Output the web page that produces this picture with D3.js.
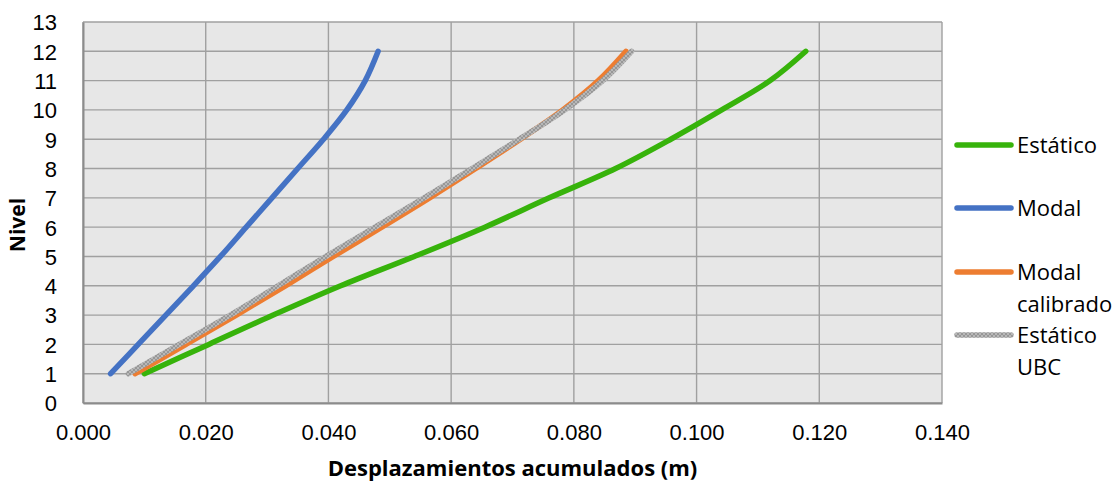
<!DOCTYPE html>
<html>
<head>
<meta charset="utf-8">
<script src="https://cdn.jsdelivr.net/npm/d3@7"></script>
<style>
  html, body { margin: 0; padding: 0; background: #ffffff; }
  svg { display: block; }
</style>
</head>
<body>
<svg id="chart" width="1119" height="483"></svg>
<script>
// Storey levels and accumulated displacements (m) per analysis
const levels = [1, 2, 3, 4, 5, 6, 7, 8, 9, 10, 11, 12];
const estatico      = [0.0100, 0.0205, 0.0310, 0.0420, 0.0540, 0.0655, 0.0760, 0.0868, 0.0958, 0.1041, 0.1120, 0.1178];
const modal         = [0.0045, 0.0090, 0.0135, 0.0180, 0.0224, 0.0266, 0.0308, 0.0350, 0.0392, 0.0430, 0.0460, 0.0481];
const modalCalib    = [0.0085, 0.0168, 0.0250, 0.0330, 0.0408, 0.0487, 0.0565, 0.0640, 0.0713, 0.0782, 0.0840, 0.0885];
const estaticoUBC   = [0.0074, 0.0157, 0.0240, 0.0318, 0.0396, 0.0476, 0.0556, 0.0634, 0.0711, 0.0785, 0.0847, 0.0894];

const seriesNames = ["Estático", "Modal", "Modal\ncalibrado", "Estático\nUBC"];
const xTicks = [0, 0.02, 0.04, 0.06, 0.08, 0.10, 0.12, 0.14];
const yTicks = [0, 1, 2, 3, 4, 5, 6, 7, 8, 9, 10, 11, 12, 13];

const series = [
  { name: seriesNames[0], values: estatico,    color: "#37b30b" },
  { name: seriesNames[1], values: modal,       color: "#4472c4" },
  { name: seriesNames[2], values: modalCalib,  color: "#ed7d31" },
  { name: seriesNames[3], values: estaticoUBC, color: "url(#ubcTexture)" }
];

const svg = d3.select("#chart");
const plot = { left: 83, right: 942, top: 22, bottom: 403 };

const x = d3.scaleLinear().domain([0, 0.14]).range([plot.left, plot.right]);
const y = d3.scaleLinear().domain([0, 13]).range([plot.bottom, plot.top]);

// Textured stroke for the UBC series
const defs = svg.append("defs");
const pat = defs.append("pattern")
  .attr("id", "ubcTexture")
  .attr("patternUnits", "userSpaceOnUse")
  .attr("width", 4).attr("height", 4);
pat.append("rect").attr("width", 4).attr("height", 4).attr("fill", "#b8b8b8");
pat.append("path").attr("d", "M0,0 L4,4 M4,0 L0,4").attr("stroke", "#8e8e8e").attr("stroke-width", 0.8);

// Plot background
svg.append("rect")
  .attr("x", plot.left).attr("y", plot.top)
  .attr("width", plot.right - plot.left).attr("height", plot.bottom - plot.top)
  .attr("fill", "#e7e7e7");

// Gridlines
const grid = svg.append("g");
grid.selectAll("line.h").data(yTicks).join("line")
  .attr("x1", plot.left).attr("x2", plot.right)
  .attr("y1", d => y(d)).attr("y2", d => y(d))
  .attr("stroke", "#a0a0a0").attr("stroke-width", 1.4);
grid.selectAll("line.v").data(xTicks).join("line")
  .attr("y1", plot.top).attr("y2", plot.bottom)
  .attr("x1", d => x(d)).attr("x2", d => x(d))
  .attr("stroke", "#a0a0a0").attr("stroke-width", 1.4);

// Axes
const xAxis = d3.axisBottom(x).tickValues(xTicks).tickFormat(d3.format(".3f")).tickSize(0).tickPadding(0);
const yAxis = d3.axisLeft(y).tickValues(yTicks).tickFormat(d3.format("d")).tickSize(0).tickPadding(0);

const gx = svg.append("g").attr("transform", `translate(0,${plot.bottom})`).call(xAxis);
gx.select(".domain").attr("stroke", "#8c8c8c").attr("stroke-width", 2);
gx.selectAll("text")
  .attr("font-family", "'Liberation Sans', Arial, sans-serif")
  .attr("font-size", 22).attr("fill", "#000")
  .attr("dy", 0).attr("y", 37);

const gy = svg.append("g").attr("transform", `translate(${plot.left},0)`).call(yAxis);
gy.select(".domain").attr("stroke", "#8c8c8c").attr("stroke-width", 2);
gy.selectAll("text")
  .attr("font-family", "'Liberation Sans', Arial, sans-serif")
  .attr("font-size", 22).attr("fill", "#000")
  .attr("x", 57 - plot.left).attr("dy", "0.36em");

// Axis titles
svg.append("text")
  .attr("x", (plot.left + plot.right) / 2).attr("y", 476)
  .attr("text-anchor", "middle")
  .attr("font-family", "'Open Sans', sans-serif").attr("font-weight", "bold").attr("font-size", 22)
  .text("Desplazamientos acumulados (m)");

svg.append("text")
  .attr("transform", "translate(25,225) rotate(-90)")
  .attr("text-anchor", "middle")
  .attr("font-family", "'Open Sans', sans-serif").attr("font-weight", "bold").attr("font-size", 21)
  .text("Nivel");

// Series lines, smoothed
const line = d3.line()
  .x(d => x(d[0]))
  .y(d => y(d[1]))
  .curve(d3.curveCatmullRom.alpha(0.5));

svg.append("g").selectAll("path").data(series).join("path")
  .attr("d", s => line(s.values.map((v, i) => [v, levels[i]])))
  .attr("fill", "none")
  .attr("stroke", s => s.color)
  .attr("stroke-width", 5.5)
  .attr("stroke-linecap", "round")
  .attr("stroke-linejoin", "round");

// Legend
const legendRows = [145, 208, 272, 335];
const lg = svg.append("g");
series.forEach((s, i) => {
  const ly = legendRows[i];
  lg.append("line")
    .attr("x1", 957).attr("x2", 1011).attr("y1", ly).attr("y2", ly)
    .attr("stroke", s.color).attr("stroke-width", 5.5).attr("stroke-linecap", "round");
  const t = lg.append("text")
    .attr("x", 1017).attr("y", ly)
    .attr("font-family", "'Open Sans', sans-serif")
    .attr("font-size", 22).attr("fill", "#000");
  s.name.split("\n").forEach((part, j) => {
    t.append("tspan").attr("x", 1017).attr("dy", j === 0 ? "0.36em" : 32).text(part);
  });
});
</script>
</body>
</html>
